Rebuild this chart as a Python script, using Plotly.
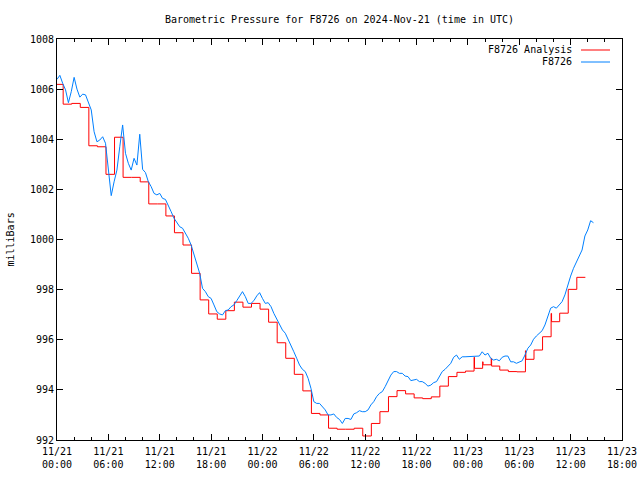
import pandas as pd
import plotly.graph_objects as go

# ---------------- data ----------------
start = pd.Timestamp("2024-11-21 00:00")
blue_interval_min = 20

# F8726 observed pressure (mb), sampled every 20 minutes from 11/21 00:00
blue_mb = [
    1006.39, 1006.55, 1006.23, 1005.97, 1005.46, 1005.90, 1006.47, 1006.00, 1005.68, 1005.80,
    1005.77, 1005.46, 1005.17, 1004.30, 1003.90, 1003.97, 1004.10, 1003.84, 1002.77, 1001.75,
    1002.30, 1002.77, 1003.70, 1004.57, 1003.44, 1003.04, 1002.77, 1003.24, 1002.97, 1004.20,
    1002.80, 1002.67, 1002.31, 1002.11, 1001.84, 1001.78, 1001.84, 1001.64, 1001.60, 1001.38,
    1001.11, 1000.85, 1000.65, 1000.51, 1000.45, 1000.25, 1000.05, 999.78, 999.38, 999.05,
    998.65, 998.05, 997.92, 997.72, 997.65, 997.39, 997.12, 997.03, 996.99, 997.16,
    997.19, 997.32, 997.39, 997.56, 997.72, 997.92, 997.72, 997.45, 997.45, 997.56,
    997.75, 997.88, 997.65, 997.45, 997.48, 997.32, 997.05, 996.85, 996.65, 996.39,
    996.26, 995.99, 995.72, 995.52, 995.26, 994.99, 994.82, 994.73, 994.46, 994.06,
    993.53, 993.46, 993.46, 993.33, 993.20, 993.00, 993.00, 993.04, 992.90, 992.82,
    992.66, 992.86, 992.86, 992.82, 993.04, 993.09, 993.17, 993.13, 993.13, 993.20,
    993.40, 993.53, 993.73, 993.86, 993.93, 994.13, 994.33, 994.59, 994.73, 994.73,
    994.66, 994.66, 994.55, 994.53, 994.37, 994.39, 994.42, 994.33, 994.33, 994.26,
    994.15, 994.19, 994.29, 994.33, 994.53, 994.73, 994.82, 994.93, 995.06, 995.30,
    995.39, 995.22, 995.32, 995.32, 995.32, 995.35, 995.32, 995.35, 995.35, 995.52,
    995.39, 995.46, 995.26, 995.19, 995.22, 995.16, 995.30, 995.35, 995.35, 995.12,
    995.12, 995.06, 995.12, 995.16, 995.39, 995.66, 995.79, 996.02, 996.15, 996.26,
    996.36, 996.59, 996.92, 997.26, 997.32, 997.26, 997.39, 997.52, 997.79, 998.19,
    998.54, 998.85, 999.11, 999.34, 999.58, 1000.14, 1000.38, 1000.75, 1000.67,
]

# F8726 Analysis (mb), step values; times in hours after 11/21 00:00
red_hours = [
    0.0, 0.72, 1.72, 2.72, 3.72, 4.72, 5.72, 6.72, 7.72, 8.72,
    9.72, 10.72, 11.72, 12.72, 13.72, 14.72, 15.72, 16.72, 17.72, 18.72,
    19.72, 20.72, 21.72, 22.72, 23.72, 24.72, 25.72, 26.72, 27.72, 28.72,
    29.72, 30.72, 31.72, 32.72, 33.72, 34.72, 35.72, 36.72, 37.72, 38.72,
    39.72, 40.72, 41.72, 42.72, 43.72, 44.72, 45.72, 46.72, 47.72,
    48.72, 48.77, 49.72, 49.77, 50.72, 50.77, 51.72, 52.72, 53.72,
    54.72, 54.77, 55.72, 56.72, 57.72, 57.77, 58.72, 59.72, 60.72, 61.72,
]
red_mb = [
    1006.19, 1005.40, 1005.43, 1005.27, 1003.74, 1003.70, 1002.60, 1004.08, 1002.48, 1002.48,
    1002.30, 1001.42, 1001.42, 1000.94, 1000.27, 999.78, 998.65, 997.59, 997.03, 996.82,
    997.16, 997.50, 997.30, 997.45, 997.22, 996.70, 995.88, 995.26, 994.62, 993.96,
    993.06, 993.00, 992.47, 992.43, 992.43, 992.47, 992.16, 992.66, 993.13, 993.73,
    993.97, 993.84, 993.68, 993.65, 993.72, 994.15, 994.53, 994.70, 994.75,
    995.30, 994.86, 995.12, 995.00, 995.26, 994.95, 994.79, 994.73, 994.72,
    995.56, 995.22, 995.59, 996.12, 997.05, 996.72, 997.06, 998.01, 998.49, 998.49,
]

y_ticks = [992, 994, 996, 998, 1000, 1002, 1004, 1006, 1008]

blue_t = [start + pd.Timedelta(minutes=blue_interval_min * i) for i in range(len(blue_mb))]
red_t = [start + pd.Timedelta(hours=h) for h in red_hours]

FONT = "DejaVu Sans Mono"
RED = "#ff0000"
BLUE = "#0080ff"

fig = go.Figure()
fig.add_trace(go.Scatter(x=red_t, y=red_mb, mode="lines", name="F8726 Analysis",
                         line=dict(color=RED, width=1, shape="hv"), showlegend=False))
fig.add_trace(go.Scatter(x=blue_t, y=blue_mb, mode="lines", name="F8726",
                         line=dict(color=BLUE, width=1), showlegend=False))

x0 = start
x1 = start + pd.Timedelta(hours=66)

fig.update_layout(
    width=640, height=480,
    margin=dict(l=57, r=18, t=39, b=40, autoexpand=False),
    paper_bgcolor="white", plot_bgcolor="white",
    font=dict(family=FONT, size=10, color="black"),
    title=dict(text="Barometric Pressure for F8726 on 2024-Nov-21 (time in UTC)",
               x=0.5, xref="paper", xanchor="center",
               y=1 - 19 / 480, yref="container", yanchor="middle",
               font=dict(family=FONT, size=10, color="black")),
    xaxis=dict(
        type="date", range=[x0, x1], automargin=False,
        tick0=start, dtick=6 * 3600 * 1000,
        tickformat="%m/%d<br>%H:%M",
        ticks="inside", ticklen=6, tickcolor="black",
        ticklabelstandoff=2,
        showline=True, linecolor="black", linewidth=1, mirror="allticks",
        showgrid=False, zeroline=False,
        minor=dict(dtick=2 * 3600 * 1000, ticks="inside", ticklen=3, tickcolor="black", showgrid=False),
        tickfont=dict(family=FONT, size=10, color="black"),
    ),
    yaxis=dict(
        range=[992, 1008], tickvals=y_ticks, ticktext=[str(v) for v in y_ticks],
        automargin=False,
        ticks="inside", ticklen=6, tickcolor="black",
        showline=True, linecolor="black", linewidth=1, mirror="allticks",
        showgrid=False, zeroline=False,
        tickfont=dict(family=FONT, size=10, color="black"),
    ),
)

# y axis label
fig.add_annotation(text="milliBars", xref="paper", yref="paper",
                   x=(10 - 57) / 565, y=0.5, xanchor="center", yanchor="middle",
                   textangle=-90, showarrow=False,
                   font=dict(family=FONT, size=10, color="black"))

# legend (text right-aligned, line sample on the right, gnuplot style)
for name, color, py in [("F8726 Analysis", RED, 50), ("F8726", BLUE, 62)]:
    yp = (440 - py) / 401
    fig.add_annotation(text=name, xref="paper", yref="paper",
                       x=(574 - 57) / 565, y=yp, xanchor="right", yanchor="middle",
                       showarrow=False, font=dict(family=FONT, size=10, color="black"))
    fig.add_shape(type="line", xref="paper", yref="paper",
                  x0=(581 - 57) / 565, x1=(610 - 57) / 565, y0=yp, y1=yp,
                  line=dict(color=color, width=1))

fig.write_html("out.html")
